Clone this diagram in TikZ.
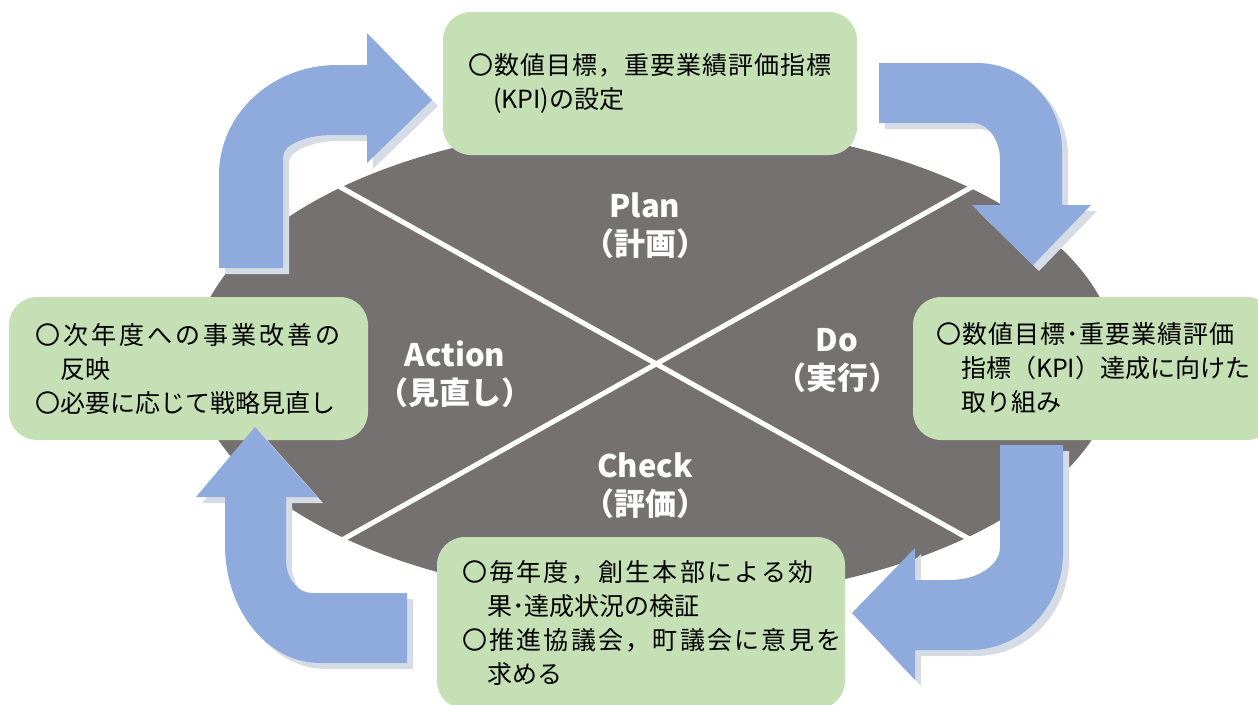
\documentclass[tikz,border=0pt]{standalone}
\usepackage{fontspec}
\setmainfont{Noto Sans CJK JP}
\newcommand\spreadline[2]{{\addfontfeatures{LetterSpace=#1}#2}}
\definecolor{ovalgray}{HTML}{757171}
\definecolor{boxgreen}{HTML}{C5E0B4}
\definecolor{arrowblue}{HTML}{8FAADC}
\definecolor{arrowshade}{HTML}{D6DCE5}
\tikzset{
  divider/.style={draw=white, line width=5pt},
  phase/.style={text=white, align=center, font=\bfseries\fontsize{31}{38}\selectfont},
  stepbox/.style={rectangle, rounded corners=28pt, fill=boxgreen, align=left,
    inner ysep=0pt, font=\fontsize{25}{34}\selectfont},
  bentarrow/.style={fill=arrowblue,
    preaction={fill=arrowshade, transform canvas={shift={(6pt,-6pt)}}}}
}

\begin{document}
\begin{tikzpicture}[x=1pt, y=-1pt]
  \clip (0,0) rectangle (1258,704);
  % the oval, cut in four
  \fill[ovalgray] (655,362) ellipse [x radius=462, y radius=238];
  \coordinate (nw) at (333,183);
  \coordinate (ne) at (979,183);
  \coordinate (sw) at (333,545);
  \coordinate (se) at (980,545);
  \draw[divider] (nw) -- (se);
  \draw[divider] (ne) -- (sw);

  \node[phase] (plan)   at (645,226) {Plan\\（計画）};
  \node[phase] (do)     at (837,361) {Do\\（実行）};
  \node[phase] (check)  at (645,486) {Check\\（評価）};
  \node[phase] (action) at (455,374) {Action\\（見直し）};

  % boxes
  \node[stepbox, minimum height=143, text width=364, inner xsep=25] (planbox) at (650,83.5)
    {\spreadline{4}{〇数値目標，重要業績評価指標}\\\hspace*{1em}(KPI)の設定};
  \node[stepbox, minimum height=143, text width=316, inner xsep=23] (dobox) at (1094,368.5)
    {\spreadline{4}{〇数値目標･重要業績評価}\\\hspace*{1em}指標（KPI）達成に向けた\\\hspace*{1em}取り組み};
  \node[stepbox, minimum height=172, text width=358, inner xsep=25] (checkbox) at (641,623)
    {\spreadline{9}{〇毎年度，創生本部による効}\\\hspace*{1em}果･達成状況の検証\\\spreadline{9}{〇推進協議会，町議会に意見を}\\\hspace*{1em}求める};
  \node[stepbox, minimum height=143, text width=307, inner xsep=26] (actionbox) at (188.5,368.5)
    {\spreadline{12}{〇次年度への事業改善の}\\\hspace*{1em}反映\\〇必要に応じて戦略見直し};

  % arrows round the cycle
  \fill[bentarrow] (219,268) -- (219,175)
    arc[start angle=180, end angle=270, x radius=118, y radius=110]
    -- (367,65) -- (367,33) -- (432,100) -- (367,163) -- (367,135) -- (333,135)
    arc[start angle=270, end angle=180, x radius=50, y radius=22]
    -- (283,268) -- cycle;
  \fill[bentarrow] (879,63) -- (977,63)
    arc[start angle=270, end angle=360, x radius=85, y radius=87]
    -- (1062,205) -- (1091,205) -- (1033,265) -- (972,205) -- (1000,205) -- (1000,160)
    arc[start angle=0, end angle=-90, x radius=27, y radius=37]
    -- (879,123) -- cycle;
  \fill[bentarrow] (1000,445) -- (1063,445) -- (1063,553)
    arc[start angle=0, end angle=90, x radius=93, y radius=97]
    -- (915,650) -- (915,680) -- (852,613) -- (915,548) -- (915,580) -- (950,580)
    arc[start angle=90, end angle=0, x radius=50, y radius=33]
    -- cycle;
  \fill[bentarrow] (407,593) -- (407,663) -- (320,663)
    arc[start angle=90, end angle=180, x radius=95, y radius=118]
    -- (225,497) -- (196,497) -- (255,427) -- (317,497) -- (286,497) -- (286,560)
    arc[start angle=180, end angle=90, x radius=26, y radius=33]
    -- cycle;
\end{tikzpicture}
\end{document}
